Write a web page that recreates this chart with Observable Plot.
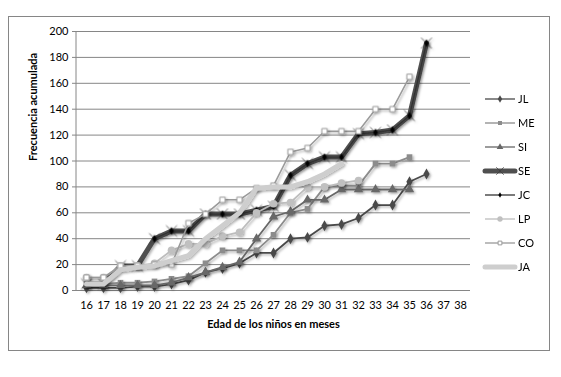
<!DOCTYPE html>
<html><head><meta charset="utf-8">
<script src="https://cdn.jsdelivr.net/npm/d3@7"></script>
<script src="https://cdn.jsdelivr.net/npm/@observablehq/plot@0.6"></script>
<style>
body{margin:0;background:#fff}
#chart{position:relative;width:561px;height:377px}
#border{position:absolute;left:8px;top:16px;width:540px;height:333px;border:1px solid #868686;pointer-events:none}
</style>
</head><body><div id="chart"><div id="border"></div></div>
<script>
const months = [16,17,18,19,20,21,22,23,24,25,26,27,28,29,30,31,32,33,34,35,36,37,38];
const yTicks = [0,20,40,60,80,100,120,140,160,180,200];
const seriesNames = ["JL","ME","SI","SE","JC","LP","CO","JA"];

const JL = [2,2,2,3,3,5,8,14,17,21,29,29,40,41,50,51,56,66,66,84,90,null,null];
const ME = [5,5,6,6,7,9,11,21,31,31,31,43,60,63,80,81,81,98,98,103,null,null,null];
const SI = [4,4,4,4,4,6,10,14,18,22,40,57,61,70,70,78,78,78,78,78,null,null,null];
const SE = [5,5,19,19,40,46,46,59,59,59,62,65,89,98,103,103,121,122,124,135,191,null,null];
const JC = [null,null,null,null,40,46,46,59,59,59,62,65,89,98,103,103,121,122,124,135,191,null,null];
const LP = [10,10,19,19,21,31,36,36,42,45,60,67,68,80,80,83,85,null,null,null,null,null,null];
const CO = [10,10,19,19,20,20,52,59,70,70,79,81,107,110,123,123,123,140,140,165,null,null,null];
const JA = [5,5,16,18,19,23,27,40,50,60,79,80,80,84,90,98,null,null,null,null,null,null,null];

const values = {JL, ME, SI, SE, JC, LP, CO, JA};

const styles = {
  JL: {stroke:"#4a4a4a", sw:1.8, symbol:"diamond", fill:"#4a4a4a", mstroke:"none", r:3.3},
  ME: {stroke:"#8c8c8c", sw:1.8, symbol:"square", fill:"#8c8c8c", mstroke:"none", r:3.2},
  SI: {stroke:"#676767", sw:1.8, symbol:"triangle", fill:"#676767", mstroke:"none", r:3.5},
  SE: {stroke:"#4f4f4f", sw:5, symbol:"times", fill:"none", mstroke:"#3a3a3a", r:5, msw:0.7},
  JC: {stroke:"#333333", sw:1.4, symbol:"diamond", fill:"#000000", mstroke:"none", r:2.4},
  LP: {stroke:"#bdbdbd", sw:1.8, symbol:"circle", fill:"#c0c0c0", mstroke:"none", r:3.8},
  CO: {stroke:"#9a9a9a", sw:1.5, symbol:"square", fill:"#ffffff", mstroke:"#9a9a9a", r:3, msw:1},
  JA: {stroke:"#cecece", sw:5, symbol:null}
};

const marks = [
  Plot.gridY(yTicks, {stroke:"#868686", strokeOpacity:1, strokeWidth:1}),
  Plot.ruleY([0], {stroke:"#868686", strokeWidth:1}),
  Plot.axisY(yTicks, {tickSize:4, tickPadding:4, stroke:"#868686", fill:"#000", label:null}),
  Plot.axisX(months, {tickSize:0, tickPadding:11, fill:"#000", label:null}),
  Plot.text(["Frecuencia acumulada"], {frameAnchor:"left", dx:-43, rotate:-90, fontWeight:"bold", fontSize:11, fill:"#000"}),
  Plot.text(["Edad de los niños en meses"], {frameAnchor:"bottom", dy:37, fontWeight:"bold", fontSize:11, fill:"#000"})
];

for (const name of seriesNames) {
  const s = styles[name];
  const data = months.map((m,i)=>({m, v: values[name][i]})).filter(d=>d.v!=null);
  marks.push(Plot.line(data, {x:"m", y:"v", stroke:s.stroke, strokeWidth:s.sw, strokeLinejoin:"round", strokeLinecap:"round"}));
  if (s.symbol) {
    marks.push(Plot.dot(data, {x:"m", y:"v", symbol:s.symbol, r:s.r, fill:s.fill, stroke:s.mstroke, strokeWidth:s.msw||1}));
  }
}

const chart = Plot.plot({
  width:561, height:377,
  marginLeft:76, marginRight:91, marginTop:31, marginBottom:87,
  style:{fontFamily:"Lato, 'Open Sans', sans-serif", fontSize:"11px", background:"transparent", color:"#000", overflow:"visible"},
  x:{type:"point", domain:months, padding:0.5, axis:null},
  y:{domain:[0,200], axis:null},
  marks
});

const svg = d3.select(chart);
const defs = svg.insert("defs", ":first-child");
const f = defs.append("filter").attr("id","sh").attr("filterUnits","userSpaceOnUse")
  .attr("x",0).attr("y",0).attr("width",561).attr("height",377);
f.append("feDropShadow").attr("dx",1.5).attr("dy",1.5).attr("stdDeviation",1).attr("flood-color","#000").attr("flood-opacity",0.3);
svg.selectAll("g[aria-label='line'], g[aria-label='dot']").attr("filter","url(#sh)");

svg.append("line").attr("x1",76).attr("x2",76).attr("y1",31).attr("y2",290).attr("stroke","#868686");

const lg = svg.append("g").attr("font-family","Lato, 'Open Sans', sans-serif").attr("font-size",11).attr("text-anchor","start");
seriesNames.forEach((name,i)=>{
  const s = styles[name];
  const y = 99 + i*24;
  const g = lg.append("g");
  g.append("line").attr("x1",485).attr("x2",515).attr("y1",y).attr("y2",y)
    .attr("stroke",s.stroke).attr("stroke-width",s.sw > 3 ? s.sw : 1.3).attr("stroke-linecap", s.sw>3?"round":"butt");
  if (s.symbol) {
    const sym = {diamond:d3.symbolDiamond, square:d3.symbolSquare, triangle:d3.symbolTriangle, circle:d3.symbolCircle, times:d3.symbolTimes}[s.symbol];
    g.append("path").attr("d", d3.symbol(sym, Math.PI*s.r*s.r*0.5)()).attr("transform",`translate(500,${y})`)
      .attr("fill",s.fill).attr("stroke",s.mstroke).attr("stroke-width",s.msw||1);
  }
  lg.append("text").attr("x",518).attr("y",y).attr("dy","0.35em").attr("fill","#000").attr("text-anchor","start").text(name);
});

document.getElementById("chart").prepend(chart);
chart.style.position="absolute"; chart.style.left="0"; chart.style.top="0";
</script>
</body></html>
